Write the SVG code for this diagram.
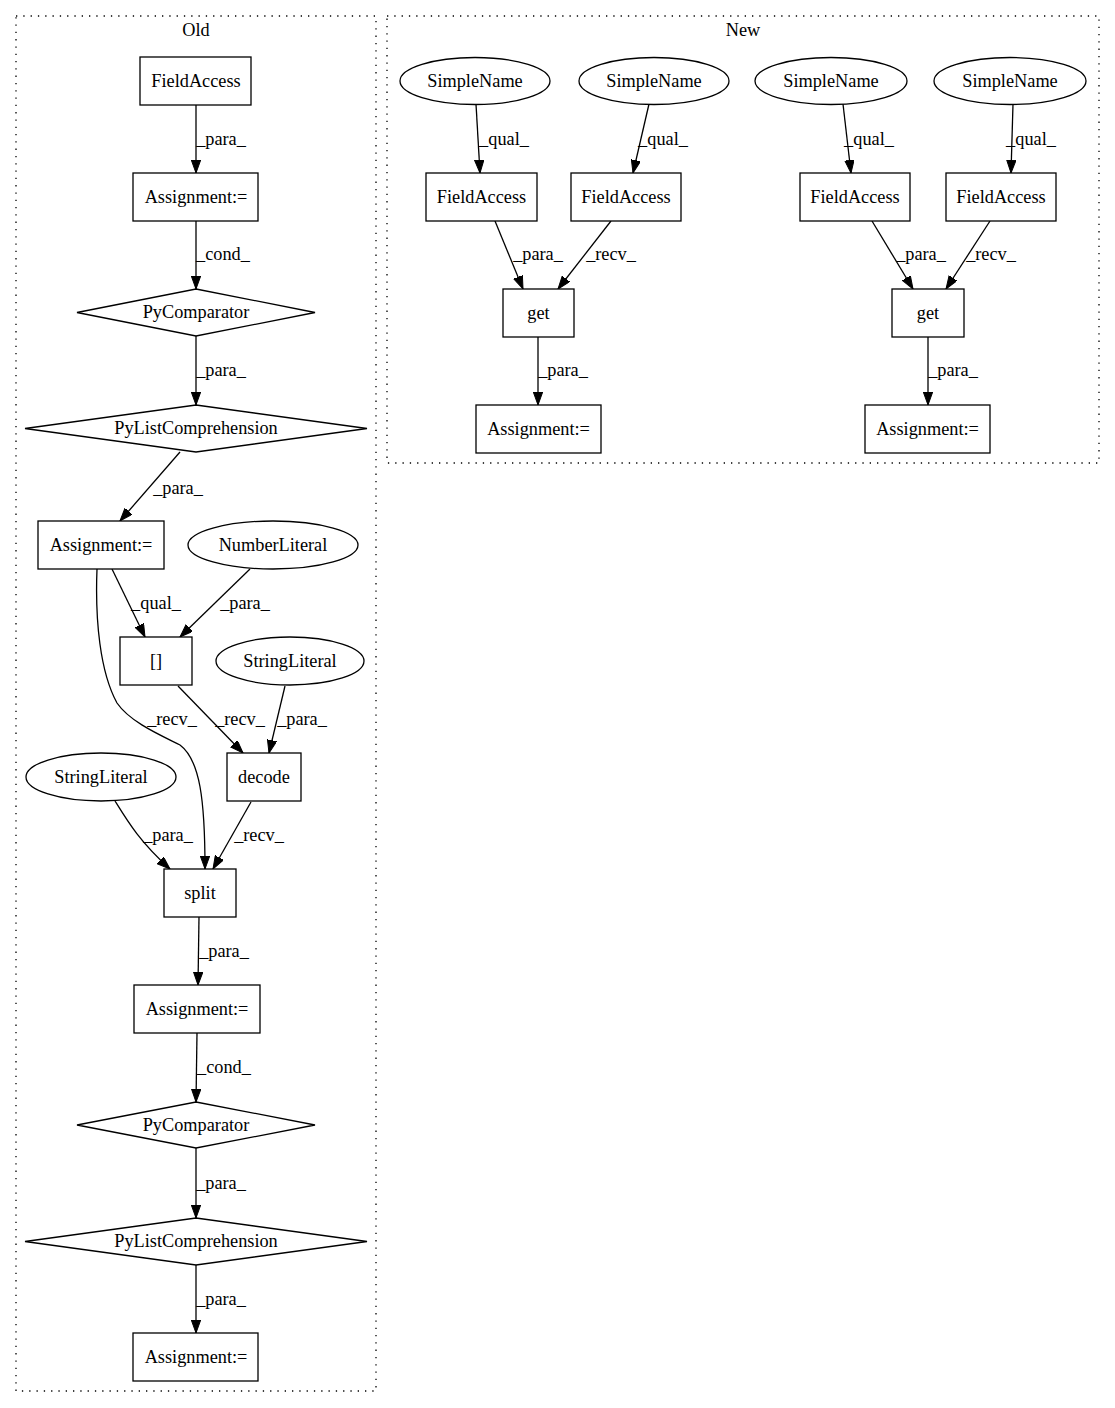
<svg xmlns="http://www.w3.org/2000/svg" width="1115" height="1408" viewBox="0 0 1115 1408">
<defs>
<marker id="arr" markerWidth="14" markerHeight="10" refX="13" refY="4.7" orient="auto" markerUnits="userSpaceOnUse">
<path d="M0,0 L13,4.7 L0,9.4 z" fill="#000" stroke="#000" stroke-width="1"/>
</marker>
</defs>
<style>
text{font-family:"Liberation Serif","Times New Roman",serif;font-size:18.3px;fill:#000}
.n{text-anchor:middle}
.nd rect,.nd ellipse,.nd polygon{fill:#fff;stroke:#000;stroke-width:1.3}
.cl{fill:none;stroke:#000;stroke-width:1.3;stroke-dasharray:1.3,6}
#edges path{fill:none;stroke:#000;stroke-width:1.3;marker-end:url(#arr)}
#edges text{text-anchor:middle}
</style>
<rect width="1115" height="1408" fill="#fff"/>
<g id="cluster_old"><rect class="cl" x="16" y="16" width="360" height="1375"/><text class="n" x="196" y="36">Old</text></g>
<g id="cluster_new"><rect class="cl" x="387" y="16" width="712" height="447"/><text class="n" x="743" y="36">New</text></g>

<g id="edges">
<path d="M196,105 L196,173"/><text x="221" y="145">_para_</text>
<path d="M196,221 L196,289"/><text x="223" y="260">_cond_</text>
<path d="M196,336 L196,405"/><text x="221" y="376">_para_</text>
<path d="M180,452 L120,521"/><text x="178" y="494">_para_</text>
<path d="M112,569 L145,637"/><text x="156" y="609">_qual_</text>
<path d="M250,569 L180,637"/><text x="245" y="609">_para_</text>
<path d="M97,569 C95,620 100,672 117,703 C130,722 160,735 180,745 C200,760 205,800 205,869"/><text x="172" y="725">_recv_</text>
<path d="M178,686 L243,753"/><text x="240" y="725">_recv_</text>
<path d="M285,686 L269,753"/><text x="302" y="725">_para_</text>
<path d="M115,801 C128,822 140,842 170,869"/><text x="168" y="841">_para_</text>
<path d="M251,802 L213,869"/><text x="259" y="841">_recv_</text>
<path d="M199,917 L198,985"/><text x="224" y="957">_para_</text>
<path d="M197,1033 L196,1102"/><text x="224" y="1073">_cond_</text>
<path d="M196,1148 L196,1218"/><text x="221" y="1189">_para_</text>
<path d="M196,1265 L196,1333"/><text x="221" y="1305">_para_</text>

<path d="M476,104 L480,173"/><text x="504" y="145">_qual_</text>
<path d="M649,104 L633,173"/><text x="663" y="145">_qual_</text>
<path d="M843,104 L851,173"/><text x="869" y="145">_qual_</text>
<path d="M1013,104 L1011,173"/><text x="1031" y="145">_qual_</text>
<path d="M495,221 L523,289"/><text x="538" y="260">_para_</text>
<path d="M611,221 L558,289"/><text x="611" y="260">_recv_</text>
<path d="M872,221 L913,289"/><text x="921" y="260">_para_</text>
<path d="M990,221 L946,289"/><text x="991" y="260">_recv_</text>
<path d="M538,337 L538,405"/><text x="563" y="376">_para_</text>
<path d="M928,337 L928,405"/><text x="953" y="376">_para_</text>
</g>

<g id="old_fieldaccess" class="nd"><rect x="140" y="57" width="111" height="48"/><text class="n" x="196" y="87">FieldAccess</text></g>
<g id="old_assign1" class="nd"><rect x="133" y="173" width="125" height="48"/><text class="n" x="196" y="203">Assignment:=</text></g>
<g id="old_pycomp1" class="nd"><polygon points="196,289 315,312.5 196,336 77,312.5"/><text class="n" x="196" y="318">PyComparator</text></g>
<g id="old_pylist1" class="nd"><polygon points="196,405 367,428.5 196,452 25,428.5"/><text class="n" x="196" y="434">PyListComprehension</text></g>
<g id="old_assign2" class="nd"><rect x="38" y="521" width="126" height="48"/><text class="n" x="101" y="551">Assignment:=</text></g>
<g id="old_numlit" class="nd"><ellipse cx="273" cy="545" rx="85" ry="24"/><text class="n" x="273" y="551">NumberLiteral</text></g>
<g id="old_index" class="nd"><rect x="120" y="637" width="72" height="48"/><text class="n" x="156" y="667">[]</text></g>
<g id="old_strlit1" class="nd"><ellipse cx="290" cy="661" rx="74" ry="24"/><text class="n" x="290" y="667">StringLiteral</text></g>
<g id="old_decode" class="nd"><rect x="227" y="753" width="74" height="48"/><text class="n" x="264" y="783">decode</text></g>
<g id="old_strlit2" class="nd"><ellipse cx="101" cy="777" rx="75" ry="24"/><text class="n" x="101" y="783">StringLiteral</text></g>
<g id="old_split" class="nd"><rect x="164" y="869" width="72" height="48"/><text class="n" x="200" y="899">split</text></g>
<g id="old_assign3" class="nd"><rect x="134" y="985" width="126" height="48"/><text class="n" x="197" y="1015">Assignment:=</text></g>
<g id="old_pycomp2" class="nd"><polygon points="196,1102 315,1125 196,1148 77,1125"/><text class="n" x="196" y="1131">PyComparator</text></g>
<g id="old_pylist2" class="nd"><polygon points="196,1218 367,1241.5 196,1265 25,1241.5"/><text class="n" x="196" y="1247">PyListComprehension</text></g>
<g id="old_assign4" class="nd"><rect x="133" y="1333" width="125" height="48"/><text class="n" x="196" y="1363">Assignment:=</text></g>

<g id="new_sn1" class="nd"><ellipse cx="475" cy="81" rx="75" ry="23.5"/><text class="n" x="475" y="87">SimpleName</text></g>
<g id="new_sn2" class="nd"><ellipse cx="654" cy="81" rx="75" ry="23.5"/><text class="n" x="654" y="87">SimpleName</text></g>
<g id="new_sn3" class="nd"><ellipse cx="831" cy="81" rx="76" ry="23.5"/><text class="n" x="831" y="87">SimpleName</text></g>
<g id="new_sn4" class="nd"><ellipse cx="1010" cy="81" rx="76" ry="23.5"/><text class="n" x="1010" y="87">SimpleName</text></g>
<g id="new_fa1" class="nd"><rect x="426" y="173" width="111" height="48"/><text class="n" x="481.5" y="203">FieldAccess</text></g>
<g id="new_fa2" class="nd"><rect x="571" y="173" width="110" height="48"/><text class="n" x="626" y="203">FieldAccess</text></g>
<g id="new_fa3" class="nd"><rect x="800" y="173" width="110" height="48"/><text class="n" x="855" y="203">FieldAccess</text></g>
<g id="new_fa4" class="nd"><rect x="946" y="173" width="110" height="48"/><text class="n" x="1001" y="203">FieldAccess</text></g>
<g id="new_get1" class="nd"><rect x="503" y="289" width="71" height="48"/><text class="n" x="538.5" y="319">get</text></g>
<g id="new_get2" class="nd"><rect x="892" y="289" width="72" height="48"/><text class="n" x="928" y="319">get</text></g>
<g id="new_assign1" class="nd"><rect x="476" y="405" width="125" height="48"/><text class="n" x="538.5" y="435">Assignment:=</text></g>
<g id="new_assign2" class="nd"><rect x="865" y="405" width="125" height="48"/><text class="n" x="927.5" y="435">Assignment:=</text></g>
</svg>
